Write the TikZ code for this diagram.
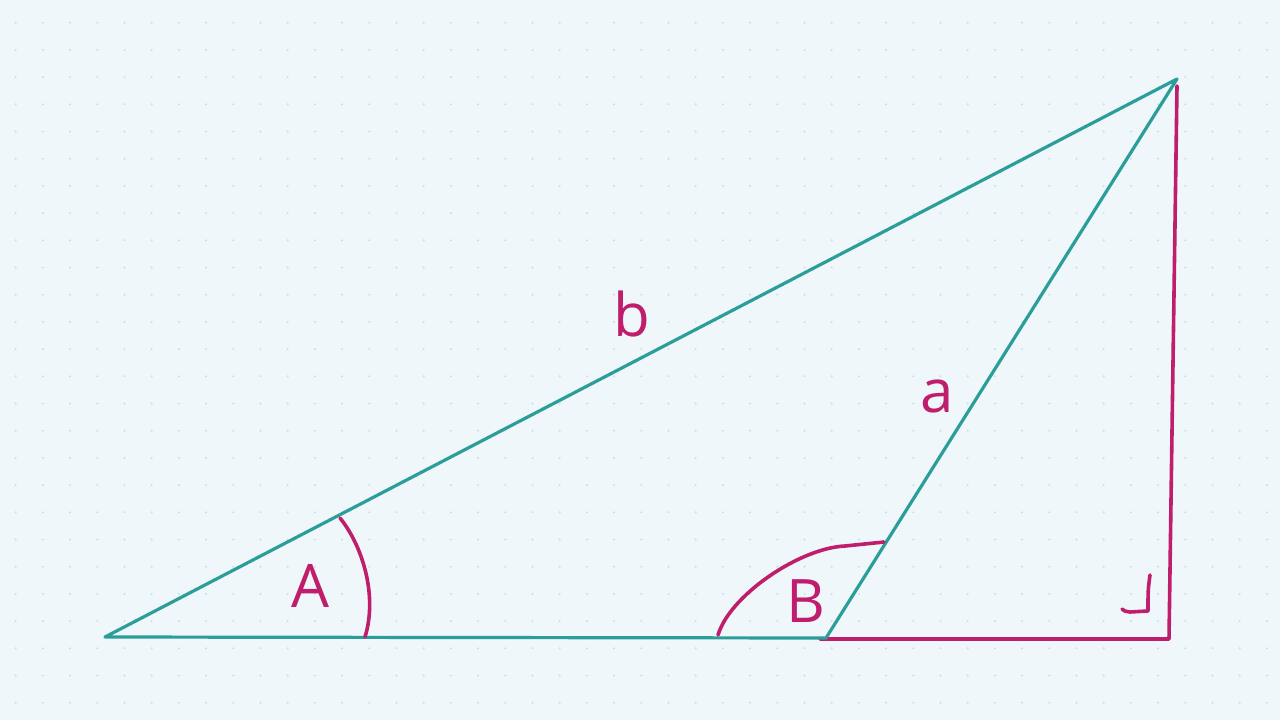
\documentclass[tikz,border=0pt]{standalone}
\usepackage{fontspec}
\setmainfont{Open Sans}
\definecolor{bgc}{HTML}{F0F7FA}
\definecolor{dotc}{HTML}{C4E2E4}
\definecolor{tealc}{HTML}{2B9E9B}
\definecolor{magc}{HTML}{BE1E6C}
\begin{document}
\begin{tikzpicture}[x=1pt,y=-1pt,
  side/.style={draw=tealc,line width=3.2pt,line cap=round,line join=round},
  magline/.style={draw=magc,line width=3.6pt,line cap=round,line join=round},
  lbl/.style={text=magc,font=\fontsize{60}{60}\selectfont,inner sep=0pt}]
\fill[bgc] (0,0) rectangle (1280,720);
\useasboundingbox (0,0) rectangle (1280,720);
\foreach \i in {0,...,46}{
  \foreach \j in {0,...,25}{
    \fill[dotc] ({15.7+27.2*\i},{22.7+27.2*\j}) circle (1.1);
  }
}
\coordinate (C) at (105,637);
\coordinate (T) at (1177,79);
\coordinate (Bv) at (826,638);
\coordinate (F) at (1169,639);
\coordinate (Tm) at (1177,86);
\coordinate (Bm) at (820,639);
% magenta altitude and extension
\draw[magline] (Tm) -- (F) -- (Bm);
% triangle
\draw[side] (C) -- (T) -- (Bv) -- cycle;
% angle A arc
\coordinate (A1) at (340,518);
\coordinate (A2) at (365,637);
\draw[magline] (A1) .. controls (362,545) and (378,595) .. (A2);
% angle B arc
\coordinate (B1) at (718,635);
\coordinate (B2) at (884,542);
\draw[magline] (B1) .. controls (730,595) and (800,548) .. (845,546) -- (B2);
% right angle mark
\coordinate (R1) at (1150,575);
\coordinate (R2) at (1122,609);
\draw[magline] (R1) .. controls (1148,590) .. (1148,611) -- (1130,612) .. controls (1124,611) .. (R2);
% labels
\node[lbl] (la) at (310,586) {A};
\node[lbl] (lb) at (806,601) {B};
\node[lbl] (ls) at (632,314) {b};
\node[lbl] (lsa) at (937,396) {a};
\end{tikzpicture}
\end{document}
